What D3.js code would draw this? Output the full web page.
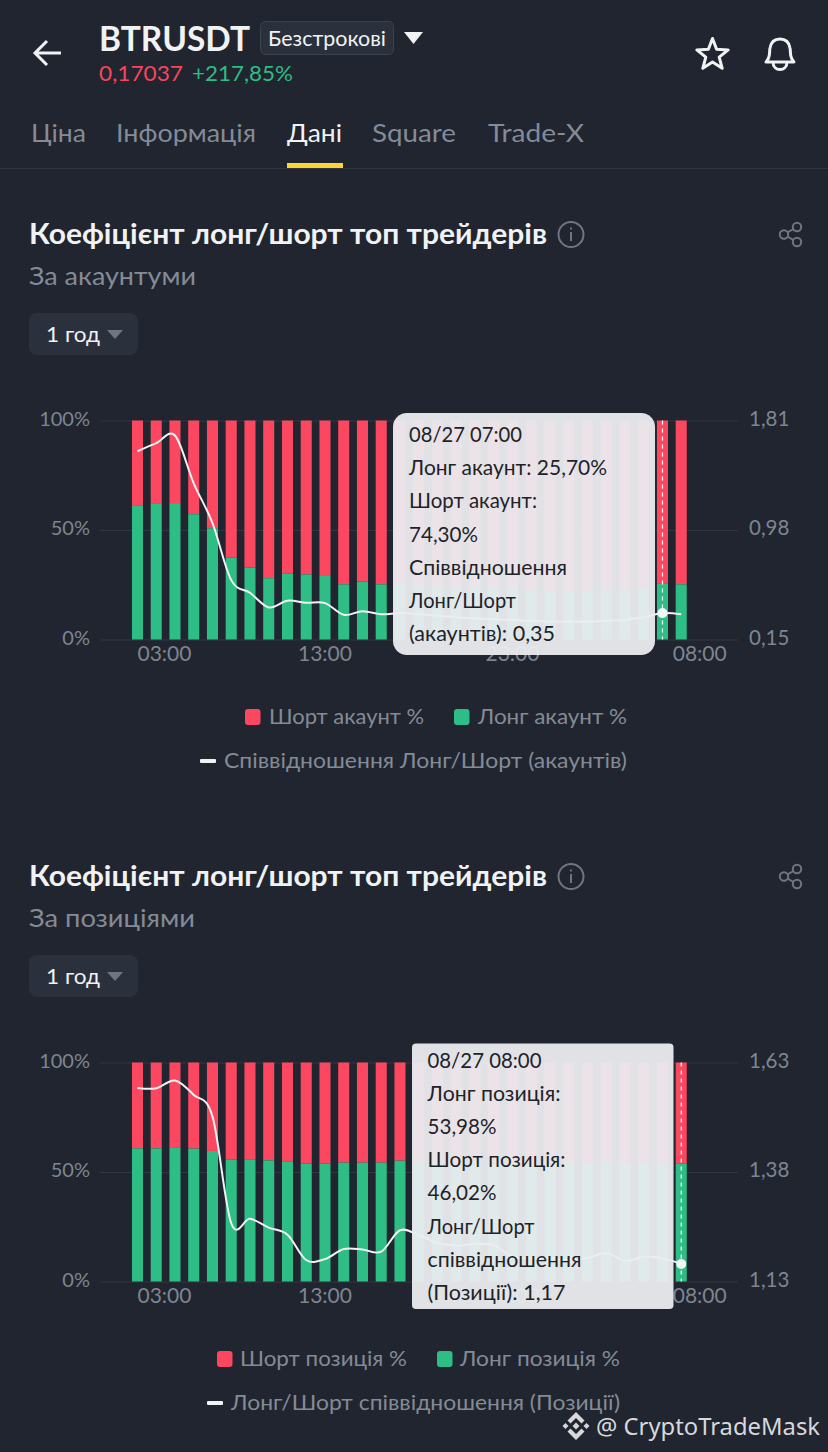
<!DOCTYPE html>
<html><head><meta charset="utf-8">
<style>html,body{margin:0;padding:0;background:#20252f;overflow:hidden}svg{display:block}
text{font-family:Lato,"Noto Sans",sans-serif}</style>
<script src="https://cdn.jsdelivr.net/npm/d3@7/dist/d3.min.js"></script>
</head><body><svg id="s" width="828" height="1452"></svg>
<script>
const hours=["03:00","04:00","05:00","06:00","07:00","08:00","09:00","10:00","11:00","12:00","13:00","14:00","15:00","16:00","17:00","18:00","19:00","20:00","21:00","22:00","23:00","00:00","01:00","02:00","03:00 ","04:00 ","05:00 ","06:00 ","07:00 ","08:00 "];
const xTickLabels=["03:00","13:00","23:00","08:00 "];
const longAccount=[61.0,61.9,62.3,57.2,50.8,37.5,32.8,28.0,30.2,29.7,29.0,25.2,26.4,25.2,25.6,24.4,24.0,24.0,24.4,24.0,24.0,22.5,22.1,22.1,21.8,22.5,22.5,23.3,25.7,25.2];
const shortAccount=[39.0,38.1,37.7,42.8,49.2,62.5,67.2,72.0,69.8,70.3,71.0,74.8,73.6,74.8,74.4,75.6,76.0,76.0,75.6,76.0,76.0,77.5,77.9,77.9,78.2,77.5,77.5,76.7,74.3,74.8];
const ratioAccount=[1.577,1.638,1.696,1.334,1.033,0.600,0.504,0.393,0.444,0.428,0.426,0.337,0.365,0.342,0.350,0.343,0.330,0.318,0.310,0.303,0.298,0.293,0.285,0.285,0.285,0.292,0.298,0.318,0.350,0.342];
const longPosition=[60.8,60.8,61.0,60.7,59.6,55.6,55.8,55.3,54.9,53.8,53.8,54.3,54.3,54.3,55.2,54.5,54.5,54.0,54.0,54.0,54.0,54.0,54.0,54.0,54.0,54.5,54.0,54.0,54.0,53.98];
const shortPosition=[39.2,39.2,39.0,39.3,40.4,44.4,44.2,44.7,45.1,46.2,46.2,45.7,45.7,45.7,44.8,45.5,45.5,46.0,46.0,46.0,46.0,46.0,46.0,46.0,46.0,45.5,46.0,46.0,46.0,46.02];
const ratioPosition=[1.572,1.571,1.589,1.556,1.507,1.263,1.273,1.253,1.237,1.179,1.181,1.204,1.203,1.198,1.247,1.236,1.218,1.212,1.216,1.213,1.187,1.183,1.183,1.179,1.184,1.195,1.177,1.186,1.183,1.170];
const pctTicks=[0,50,100];
const ratioTicksAccount=[0.15,0.98,1.81];
const ratioTicksPosition=[1.13,1.38,1.63];
const tooltipAccount=["08/27 07:00","Лонг акаунт: 25,70%","Шорт акаунт:","74,30%","Співвідношення","Лонг/Шорт","(акаунтів): 0,35"];
const tooltipPosition=["08/27 08:00","Лонг позиція:","53,98%","Шорт позиція:","46,02%","Лонг/Шорт","співвідношення","(Позиції): 1,17"];

const RED="#fc4760",GREEN="#2ebd85",GRAY="#848b97",AXIS="#7f858f",ICON="#6f7682",WHITE="#f1f2f4";
const svg=d3.select("#s");
const loc=d3.formatLocale({decimal:",",thousands:" ",grouping:[3],currency:["",""]});
const f2=loc.format(".2f");

function T(g,s,x,y,size,fill,w,opt={}){
  const t=g.append("text").attr("x",x).attr("y",y-1.5).attr("dominant-baseline","central").attr("font-size",size).attr("fill",fill).text(s);
  if(w){t.attr("textLength",w).attr("lengthAdjust","spacingAndGlyphs");}
  if(opt.weight)t.attr("font-weight",opt.weight);
  if(opt.anchor)t.attr("text-anchor",opt.anchor);
  return t;
}
// header
const h=svg.append("g");
h.append("path").attr("d","M61 53H35M47 41L35 53L47 65").attr("fill","none").attr("stroke",WHITE).attr("stroke-width",3);
T(h,"BTRUSDT",99,39,34,WHITE,151,{weight:700});
h.append("rect").attr("x",260.5).attr("y",21.5).attr("width",133).attr("height",33).attr("rx",5).attr("fill","#2a303c").attr("stroke","#3b4250");
T(h,"Безстрокові",268,39,20.5,WHITE,118);
h.append("path").attr("d","M404 32H423L413.5 44Z").attr("fill",WHITE);
T(h,"0,17037",99,74,22,"#f6465d",84);
T(h,"+217,85%",192,74,22,"#2ebd85",101);
h.append("path").attr("d",d3.range(10).map(i=>{const r=i%2?7:16.5,a=-Math.PI/2+i*Math.PI/5;return (i?"L":"M")+(712.5+r*Math.cos(a)).toFixed(1)+" "+(55+r*Math.sin(a)).toFixed(1);}).join("")+"Z").attr("fill","none").attr("stroke",WHITE).attr("stroke-width",3).attr("stroke-linejoin","round");
h.append("path").attr("d","M766 62C771 57 769 52 770 48C771 42 775 39 780 39C785 39 789 42 790 48C791 52 789 57 794 62Z M773 62C773 72 787 72 787 62").attr("fill","none").attr("stroke",WHITE).attr("stroke-width",3).attr("stroke-linejoin","round");
[["Ціна",31,55,GRAY],["Інформація",116,140,GRAY],["Дані",287,55,WHITE],["Square",372,84,GRAY],["Trade-X",488,96,GRAY]].forEach(d=>T(h,d[0],d[1],133.5,25.5,d[3],d[2]));
h.append("rect").attr("x",0).attr("y",168).attr("width",828).attr("height",1).attr("fill","#2e3440");
h.append("rect").attr("x",287).attr("y",163).attr("width",56).attr("height",5).attr("fill","#fcd535");

function chart(o){
  const g=svg.append("g");
  const dy=o.top-420.5;
  const s=g.append("g").attr("transform",`translate(0,${dy})`);
  T(s,"Коефіцієнт лонг/шорт топ трейдерів",29,234.5,28,WHITE,518,{weight:700});
  s.append("circle").attr("cx",571).attr("cy",234.5).attr("r",12.5).attr("fill","none").attr("stroke",ICON).attr("stroke-width",2);
  s.append("rect").attr("x",570).attr("y",232).attr("width",2).attr("height",9).attr("fill",ICON);
  s.append("rect").attr("x",570).attr("y",227.5).attr("width",2).attr("height",2).attr("fill",ICON);
  s.append("path").attr("d","M797 227L784 234.5L797 242").attr("fill","none").attr("stroke",ICON).attr("stroke-width",2);
  [[797,227],[784,234.5],[797,242]].forEach(c=>s.append("circle").attr("cx",c[0]).attr("cy",c[1]).attr("r",4.2).attr("fill","#20252f").attr("stroke",ICON).attr("stroke-width",2));
  T(s,o.sub,29,276.5,25,GRAY,o.subW);
  s.append("rect").attr("x",29).attr("y",313).attr("width",109).attr("height",42).attr("rx",8).attr("fill","#2a313d");
  T(s,"1 год",46,335,22,WHITE,54);
  s.append("path").attr("d","M107 330H123L115 339Z").attr("fill",ICON);

  const x=d3.scaleBand().domain(hours).range([128.1,690.6]).paddingInner(0.41).paddingOuter(0.205);
  const y=d3.scaleLinear().domain([0,100]).range([o.top+219,o.top]);
  const yr=d3.scaleLinear().domain([o.rTicks[0],o.rTicks[2]]).range([o.top+219,o.top]);
  const cx=d=>x(d)+x.bandwidth()/2;

  const left=g.append("g").attr("transform","translate(100,0)").call(d3.axisLeft(y).tickValues(pctTicks).tickFormat(d=>d+"%").tickSize(-638).tickPadding(10));
  left.select(".domain").remove();
  left.selectAll("line").attr("stroke","#303642");
  left.selectAll("text").attr("font-size",20).attr("fill",AXIS).attr("dy","0.24em");
  const right=g.append("g").attr("transform","translate(738,0)").call(d3.axisRight(yr).tickValues(o.rTicks).tickFormat(d=>f2(d)).tickSize(0).tickPadding(11));
  right.select(".domain").remove();
  right.selectAll("text").attr("font-size",20.5).attr("fill",AXIS).attr("dy","0.24em");
  const bottom=g.append("g").attr("transform",`translate(0,${o.top+219})`).call(d3.axisBottom(x).tickValues(xTickLabels).tickSize(0).tickPadding(7));
  bottom.select(".domain").remove();
  bottom.selectAll("text").attr("font-size",21).attr("fill",AXIS).text(d=>d.trim()).attr("dy","0.71em")
    .attr("dx",d=>d==="03:00"?27:(d==="08:00 "?18.5:0));

  g.selectAll(".s").data(hours).join("rect").attr("x",d=>x(d)).attr("width",x.bandwidth())
    .attr("y",(d,i)=>y(100)).attr("height",(d,i)=>y(100-o.short[i])-y(100)).attr("fill",RED);
  g.selectAll(".l").data(hours).join("rect").attr("x",d=>x(d)).attr("width",x.bandwidth())
    .attr("y",(d,i)=>y(o.long[i])).attr("height",(d,i)=>y(0)-y(o.long[i])).attr("fill",GREEN);

  const line=d3.line().x((d,i)=>cx(hours[i])).y(d=>yr(d)).curve(d3.curveCatmullRom.alpha(0));
  g.append("path").attr("d",line(o.ratio)).attr("fill","none").attr("stroke",WHITE).attr("stroke-width",2);

  const hx=cx(hours[o.hi]);
  g.append("line").attr("x1",hx).attr("x2",hx).attr("y1",y(100)).attr("y2",y(0)).attr("stroke","#fff").attr("stroke-width",1.2).attr("stroke-dasharray","4 4");
  g.append("circle").attr("cx",hx).attr("cy",yr(o.ratio[o.hi])).attr("r",5).attr("fill","#f4f5f6");

  // tooltip
  const tt=o.tip;
  g.append("rect").attr("x",tt.x).attr("y",tt.y).attr("width",tt.w).attr("height",tt.h).attr("rx",tt.r).attr("fill","#ebecef").attr("fill-opacity",.95);
  o.tipText.forEach((l,i)=>T(g,l,tt.x+tt.tx,tt.ly+i*tt.lh,21,"#1e2329",tt.widths[i]));

  // legend
  const L=g.append("g");
  const ly=o.top+296.5,ly2=o.top+340.5;
  o.leg.forEach(d=>{
    L.append("rect").attr("x",d.sx).attr("y",ly-8).attr("width",15.5).attr("height",16).attr("rx",3).attr("fill",d.c);
    T(L,d.t,d.tx,ly,21,GRAY,d.w);
  });
  L.append("rect").attr("x",o.leg3.sx).attr("y",ly2-2).attr("width",16).attr("height",4).attr("rx",1).attr("fill",WHITE);
  T(L,o.leg3.t,o.leg3.tx,ly2,21,GRAY,o.leg3.w);
}
chart({top:420.5,sub:"За акаунтуми",subW:167,long:longAccount,short:shortAccount,ratio:ratioAccount,rTicks:ratioTicksAccount,hi:28,
  tip:{x:393,y:413,w:262,h:242,r:14,tx:16,ly:435,lh:33.2,widths:[113,198,128,69,158,107,146]},tipText:tooltipAccount,
  leg:[{sx:245,c:RED,t:"Шорт акаунт %",tx:269,w:155},{sx:454,c:GREEN,t:"Лонг акаунт %",tx:478,w:149}],
  leg3:{sx:200,t:"Співвідношення Лонг/Шорт (акаунтів)",tx:224,w:403}});
chart({top:1062.5,sub:"За позиціями",subW:166,long:longPosition,short:shortPosition,ratio:ratioPosition,rTicks:ratioTicksPosition,hi:29,
  tip:{x:412,y:1043.5,w:261.5,h:265.5,r:4,tx:15.5,ly:1060.5,lh:33.2,widths:[114,133,69,138,69,107,154,138]},tipText:tooltipPosition,
  leg:[{sx:217,c:RED,t:"Шорт позиція %",tx:240,w:167},{sx:437,c:GREEN,t:"Лонг позиція %",tx:460,w:160}],
  leg3:{sx:207,t:"Лонг/Шорт співвідношення (Позиції)",tx:231,w:389}});
// watermark
const w=svg.append("g").attr("fill","#d6d8dc");
w.append("path").attr("d","M576 1412L584.5 1420.5L581.5 1423.5L576 1418L570.5 1423.5L567.5 1420.5Z");
w.append("path").attr("d","M576 1440L584.5 1431.5L581.5 1428.5L576 1434L570.5 1428.5L567.5 1431.5Z");
[[565.5,1426,3],[586.5,1426,3],[576,1426,3.5]].forEach(c=>w.append("path").attr("d",`M${c[0]} ${c[1]-c[2]}L${c[0]+c[2]} ${c[1]}L${c[0]} ${c[1]+c[2]}L${c[0]-c[2]} ${c[1]}Z`));
T(w,"@ CryptoTradeMask",596,1427,24,"#d6d8dc",224).style("font-family","'Noto Sans'");
</script></body></html>
